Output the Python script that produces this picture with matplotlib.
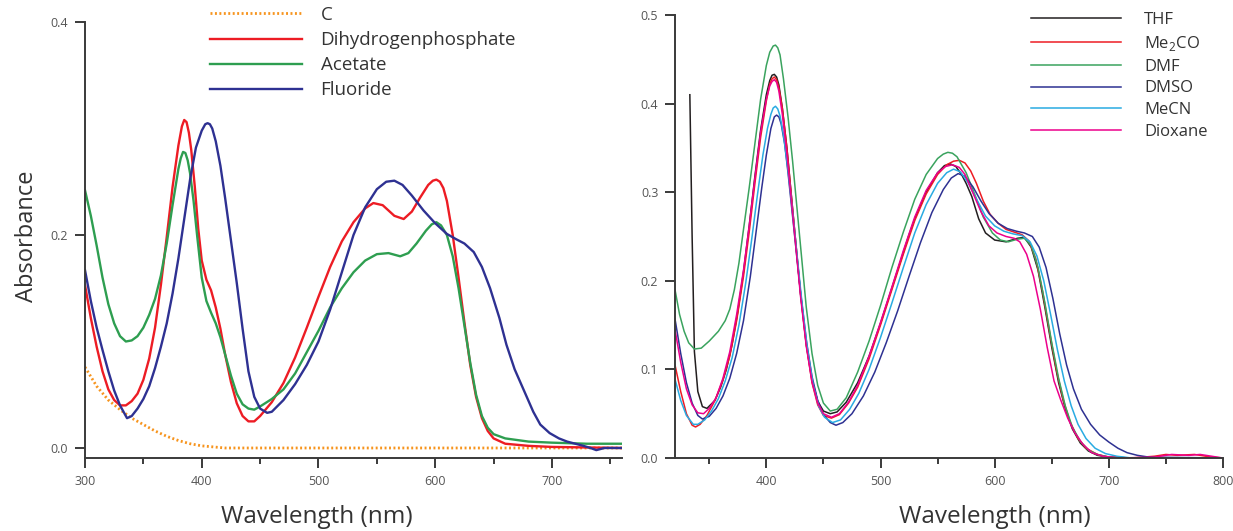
import numpy as np
import matplotlib.pyplot as plt

plt.rcParams['font.family'] = ['Open Sans', 'DejaVu Sans']
plt.rcParams['mathtext.fontset'] = 'custom'
plt.rcParams['mathtext.rm'] = 'Open Sans'

# ---- Left panel: anion titration (nm, absorbance) ----
wl_c = [300, 310, 320, 330, 340, 350, 360, 370, 380, 390, 400, 410, 420, 760]
abs_c = [0.076, 0.058, 0.045, 0.036, 0.028, 0.022, 0.016, 0.011, 0.007, 0.004,
         0.002, 0.001, 0.0, 0.0]

wl_h2po4 = [300, 305, 310, 315, 320, 325, 330, 335, 340, 345, 350, 355, 360, 365,
            370, 375, 380, 383, 385, 387, 389, 391, 394, 397, 400, 404, 408, 412,
            416, 420, 425, 430, 435, 440, 445, 450, 460, 470, 480, 490, 500, 510,
            520, 530, 540, 547, 555, 565, 573, 580, 587, 594, 598, 601, 604, 607,
            610, 615, 620, 625, 630, 635, 640, 645, 650, 660, 680, 700, 760]
abs_h2po4 = [0.153, 0.122, 0.095, 0.072, 0.055, 0.045, 0.040, 0.040, 0.044, 0.051,
             0.064, 0.084, 0.113, 0.153, 0.198, 0.245, 0.284, 0.302, 0.308, 0.306,
             0.296, 0.280, 0.246, 0.206, 0.176, 0.158, 0.148, 0.132, 0.112, 0.088,
             0.062, 0.042, 0.030, 0.025, 0.025, 0.030, 0.043, 0.061, 0.085, 0.113,
             0.142, 0.170, 0.194, 0.212, 0.225, 0.230, 0.228, 0.218, 0.215, 0.222,
             0.235, 0.247, 0.251, 0.252, 0.250, 0.244, 0.232, 0.200, 0.160, 0.118,
             0.078, 0.048, 0.028, 0.016, 0.009, 0.004, 0.002, 0.001, 0.0]

wl_acetate = [300, 305, 310, 315, 320, 325, 330, 335, 340, 345, 350, 355, 360, 365,
              370, 375, 380, 382, 384, 386, 388, 390, 393, 396, 400, 404, 408, 412,
              416, 420, 425, 430, 435, 440, 445, 450, 460, 470, 480, 490, 500, 510,
              520, 530, 540, 550, 560, 570, 577, 584, 592, 597, 601, 605, 610, 615,
              620, 625, 630, 635, 640, 645, 650, 660, 680, 700, 730, 760]
abs_acetate = [0.242, 0.218, 0.190, 0.160, 0.135, 0.117, 0.105, 0.100, 0.101, 0.105,
               0.113, 0.125, 0.140, 0.162, 0.192, 0.228, 0.262, 0.272, 0.278, 0.277,
               0.270, 0.258, 0.232, 0.200, 0.160, 0.138, 0.127, 0.117, 0.104, 0.088,
               0.068, 0.051, 0.041, 0.037, 0.036, 0.039, 0.046, 0.055, 0.070, 0.090,
               0.110, 0.132, 0.150, 0.165, 0.176, 0.182, 0.183, 0.180, 0.183, 0.192,
               0.204, 0.210, 0.212, 0.209, 0.200, 0.180, 0.150, 0.115, 0.080, 0.050,
               0.030, 0.019, 0.013, 0.009, 0.006, 0.005, 0.004, 0.004]

wl_fluoride = [300, 305, 310, 315, 320, 325, 330, 336, 340, 345, 350, 355, 360, 365,
               370, 375, 380, 385, 390, 395, 400, 403, 405, 407, 409, 412, 416, 420,
               425, 430, 435, 440, 445, 450, 456, 460, 470, 480, 490, 500, 510, 520,
               530, 540, 550, 558, 565, 572, 580, 590, 600, 610, 618, 625, 633, 640,
               647, 655, 661, 668, 676, 684, 690, 698, 706, 713, 720, 727, 733, 738,
               745, 760]
abs_fluoride = [0.167, 0.138, 0.113, 0.092, 0.072, 0.054, 0.040, 0.028, 0.030, 0.037,
                0.046, 0.058, 0.075, 0.095, 0.117, 0.145, 0.178, 0.215, 0.252, 0.282,
                0.298, 0.304, 0.305, 0.304, 0.300, 0.288, 0.265, 0.235, 0.195, 0.155,
                0.112, 0.072, 0.048, 0.037, 0.033, 0.034, 0.045, 0.060, 0.078, 0.100,
                0.130, 0.165, 0.200, 0.226, 0.243, 0.250, 0.251, 0.247, 0.237, 0.223,
                0.211, 0.201, 0.196, 0.192, 0.184, 0.170, 0.150, 0.122, 0.097, 0.074,
                0.054, 0.034, 0.022, 0.014, 0.009, 0.006, 0.004, 0.002, 0.000, -0.002,
                0.000, 0.000]

# ---- Right panel: solvent study ----
wl_thf = [333, 335, 337, 340, 344, 348, 355, 360, 365, 370, 375, 380, 385, 390, 395,
          400, 403, 405, 407, 409, 411, 414, 418, 422, 426, 430, 435, 440, 445, 450,
          456, 462, 470, 480, 490, 500, 510, 520, 525, 530, 540, 550, 556, 561, 566,
          571, 575, 580, 586, 592, 600, 610, 620, 626, 632, 638, 644, 650, 656, 662,
          668, 675, 682, 690, 700, 720, 800]
abs_thf = [0.410, 0.250, 0.120, 0.075, 0.058, 0.056, 0.065, 0.080, 0.100, 0.128, 0.165,
           0.210, 0.262, 0.318, 0.370, 0.410, 0.426, 0.432, 0.433, 0.430, 0.421, 0.395,
           0.350, 0.295, 0.240, 0.185, 0.128, 0.088, 0.064, 0.053, 0.050, 0.052, 0.063,
           0.085, 0.115, 0.152, 0.192, 0.232, 0.252, 0.270, 0.300, 0.322, 0.330, 0.332,
           0.329, 0.320, 0.310, 0.295, 0.270, 0.254, 0.246, 0.244, 0.248, 0.249, 0.238,
           0.212, 0.170, 0.125, 0.085, 0.055, 0.033, 0.017, 0.008, 0.003, 0.001, 0.0,
           0.0]

wl_me2co = [320, 325, 330, 335, 338, 342, 348, 355, 362, 368, 374, 380, 385, 390, 395,
            400, 403, 405, 407, 409, 411, 414, 418, 422, 426, 430, 435, 440, 445, 450,
            457, 464, 472, 480, 490, 500, 510, 520, 530, 540, 550, 558, 564, 569, 574,
            579, 584, 590, 596, 603, 610, 617, 624, 630, 636, 642, 648, 654, 660, 666,
            673, 680, 690, 700, 720, 740, 750, 760, 775, 790, 800]
abs_me2co = [0.105, 0.075, 0.050, 0.037, 0.035, 0.038, 0.048, 0.065, 0.088, 0.115,
             0.155, 0.205, 0.255, 0.310, 0.362, 0.403, 0.422, 0.428, 0.430, 0.427,
             0.418, 0.395, 0.350, 0.295, 0.240, 0.185, 0.128, 0.085, 0.060, 0.048,
             0.045, 0.049, 0.062, 0.080, 0.112, 0.150, 0.190, 0.230, 0.268, 0.298,
             0.320, 0.331, 0.335, 0.336, 0.333, 0.324, 0.310, 0.290, 0.275, 0.265,
             0.258, 0.255, 0.252, 0.245, 0.225, 0.188, 0.143, 0.100, 0.066, 0.041,
             0.022, 0.011, 0.004, 0.001, 0.0, 0.002, 0.004, 0.003, 0.004, 0.001, 0.0]

wl_dmf = [320, 324, 328, 332, 337, 343, 350, 358, 364, 368, 372, 376, 380, 385, 390,
          395, 400, 403, 406, 408, 410, 412, 415, 419, 423, 427, 431, 435, 440, 445,
          450, 456, 462, 470, 480, 490, 500, 510, 520, 530, 540, 550, 555, 559, 563,
          567, 575, 583, 590, 598, 605, 612, 620, 626, 632, 638, 644, 650, 656, 662,
          668, 675, 682, 690, 700, 720, 735, 745, 800]
abs_dmf = [0.190, 0.162, 0.143, 0.130, 0.123, 0.124, 0.132, 0.143, 0.155, 0.168, 0.190,
           0.220, 0.258, 0.305, 0.355, 0.405, 0.443, 0.458, 0.465, 0.466, 0.463, 0.455,
           0.428, 0.385, 0.335, 0.280, 0.225, 0.170, 0.118, 0.082, 0.062, 0.053, 0.055,
           0.068, 0.097, 0.132, 0.172, 0.215, 0.255, 0.292, 0.320, 0.338, 0.343, 0.345,
           0.344, 0.340, 0.322, 0.296, 0.272, 0.254, 0.246, 0.244, 0.247, 0.248, 0.240,
           0.215, 0.175, 0.130, 0.090, 0.058, 0.035, 0.019, 0.009, 0.004, 0.001, 0.0,
           -0.002, 0.0, 0.0]

wl_dmso = [320, 325, 330, 335, 340, 344, 350, 356, 362, 368, 374, 380, 386, 391, 396,
           400, 404, 407, 409, 411, 413, 416, 419, 422, 426, 430, 435, 440, 445, 450,
           456, 461, 467, 475, 485, 495, 505, 515, 525, 535, 545, 555, 562, 568, 574,
           581, 588, 595, 603, 611, 619, 626, 633, 639, 645, 651, 657, 663, 669, 676,
           684, 692, 700, 708, 716, 725, 735, 800]
abs_dmso = [0.157, 0.118, 0.085, 0.062, 0.048, 0.044, 0.047, 0.056, 0.070, 0.090, 0.118,
            0.155, 0.205, 0.255, 0.305, 0.342, 0.372, 0.385, 0.387, 0.385, 0.377, 0.355,
            0.322, 0.285, 0.236, 0.187, 0.133, 0.092, 0.065, 0.049, 0.040, 0.037, 0.040,
            0.050, 0.070, 0.097, 0.130, 0.166, 0.205, 0.243, 0.277, 0.303, 0.316, 0.321,
            0.318, 0.306, 0.290, 0.276, 0.265, 0.259, 0.256, 0.254, 0.250, 0.238, 0.215,
            0.180, 0.140, 0.105, 0.078, 0.055, 0.038, 0.026, 0.018, 0.011, 0.006, 0.003,
            0.001, 0.0]

wl_mecn = [320, 325, 330, 336, 340, 346, 352, 358, 364, 370, 376, 382, 387, 392, 397,
           401, 404, 406, 408, 410, 412, 415, 419, 423, 427, 431, 436, 441, 446, 451,
           458, 465, 473, 481, 490, 500, 510, 520, 530, 540, 550, 558, 564, 570, 577,
           585, 592, 600, 608, 616, 624, 631, 637, 643, 649, 655, 661, 667, 673, 680,
           688, 697, 707, 720, 800]
abs_mecn = [0.089, 0.065, 0.048, 0.038, 0.038, 0.043, 0.053, 0.067, 0.087, 0.113,
            0.150, 0.198, 0.245, 0.295, 0.342, 0.372, 0.388, 0.395, 0.397, 0.394,
            0.386, 0.365, 0.325, 0.278, 0.228, 0.178, 0.123, 0.083, 0.058, 0.046,
            0.040, 0.043, 0.055, 0.073, 0.100, 0.136, 0.175, 0.215, 0.254, 0.286,
            0.310, 0.322, 0.326, 0.323, 0.310, 0.290, 0.273, 0.262, 0.256, 0.253,
            0.251, 0.244, 0.228, 0.200, 0.162, 0.122, 0.087, 0.059, 0.038, 0.022,
            0.011, 0.005, 0.002, 0.0, 0.0]

wl_dioxane = [320, 325, 330, 335, 340, 345, 350, 356, 362, 368, 374, 380, 385, 390,
              395, 400, 403, 405, 407, 409, 411, 414, 418, 422, 426, 430, 435, 440,
              445, 450, 457, 464, 472, 480, 490, 500, 510, 520, 530, 540, 550, 557,
              563, 569, 574, 580, 588, 595, 602, 610, 617, 622, 628, 634, 640, 646,
              652, 658, 664, 670, 677, 685, 695, 710, 740, 755, 770, 780, 800]
abs_dioxane = [0.145, 0.108, 0.078, 0.060, 0.051, 0.050, 0.056, 0.068, 0.090, 0.120,
               0.162, 0.212, 0.262, 0.316, 0.368, 0.405, 0.420, 0.425, 0.427, 0.424,
               0.414, 0.388, 0.343, 0.290, 0.236, 0.182, 0.126, 0.086, 0.062, 0.050,
               0.046, 0.050, 0.063, 0.082, 0.115, 0.153, 0.193, 0.234, 0.272, 0.302,
               0.322, 0.329, 0.331, 0.328, 0.320, 0.302, 0.278, 0.262, 0.254, 0.250,
               0.248, 0.244, 0.230, 0.205, 0.168, 0.125, 0.087, 0.065, 0.045, 0.029,
               0.016, 0.006, 0.002, 0.0, 0.001, 0.004, 0.003, 0.004, 0.0]

W, H = 1233, 531
fig = plt.figure(figsize=(W / 100, H / 100), dpi=100)

ax1 = fig.add_axes([85 / W, (H - 458) / H, (622 - 85) / W, (458 - 22) / H])
ax2 = fig.add_axes([675 / W, (H - 458) / H, (1223 - 675) / W, (458 - 15) / H])

ax1.plot(wl_c, abs_c, color='#F7941D', lw=2.0, ls=(0, (0.7, 0.9)), label='C')
ax1.plot(wl_h2po4, abs_h2po4, color='#ED1C24', lw=1.7, label='Dihydrogenphosphate')
ax1.plot(wl_acetate, abs_acetate, color='#2E9E50', lw=1.7, label='Acetate')
ax1.plot(wl_fluoride, abs_fluoride, color='#2E3192', lw=1.7, label='Fluoride')

ax2.plot(wl_thf, abs_thf, color='#231F20', lw=1.1, label='THF')
ax2.plot(wl_me2co, abs_me2co, color='#ED1C24', lw=1.1, label='Me$_\\mathrm{2}$CO')
ax2.plot(wl_dmf, abs_dmf, color='#3AA35E', lw=1.1, label='DMF')
ax2.plot(wl_dmso, abs_dmso, color='#2E3192', lw=1.1, label='DMSO')
ax2.plot(wl_mecn, abs_mecn, color='#29ABE2', lw=1.1, label='MeCN')
ax2.plot(wl_dioxane, abs_dioxane, color='#EC008C', lw=1.1, label='Dioxane')

ax1.set_xlim(300, 760)
ax1.set_ylim(-0.0094, 0.4)
ax1.set_xticks([300, 400, 500, 600, 700])
ax1.set_xticks([350, 450, 550, 650, 750], minor=True)
ax1.set_yticks([0.0, 0.2, 0.4])
ax1.set_yticklabels(['0.0', '0.2', '0.4'])

ax2.set_xlim(320, 800)
ax2.set_ylim(0, 0.5)
ax2.set_xticks([400, 500, 600, 700, 800])
ax2.set_xticks([350, 450, 550, 650, 750], minor=True)
ax2.set_yticks([0.0, 0.1, 0.2, 0.3, 0.4, 0.5])
ax2.set_yticklabels(['0.0', '0.1', '0.2', '0.3', '0.4', '0.5'])

for ax in (ax1, ax2):
    for s in ('top', 'right'):
        ax.spines[s].set_visible(False)
    for s in ('left', 'bottom'):
        ax.spines[s].set_color('#3a3a3a')
        ax.spines[s].set_linewidth(1.4)
    ax.tick_params(which='major', length=7, width=1.4, color='#3a3a3a',
                   labelsize=9, labelcolor='#555555', pad=5)
    ax.tick_params(which='minor', length=4, width=1.4, color='#3a3a3a')

ax1.legend(loc='upper left', bbox_to_anchor=(210 / W, 1 - 6 / H),
           bbox_transform=fig.transFigure, frameon=False, fontsize=13.5,
           handlelength=4.9, handletextpad=1.0, labelspacing=0.38,
           borderpad=0, borderaxespad=0, labelcolor='#333333')
ax2.legend(loc='upper left', bbox_to_anchor=(1031 / W, 1 - 12 / H),
           bbox_transform=fig.transFigure, frameon=False, fontsize=12,
           handlelength=5.4, handletextpad=1.4, labelspacing=0.35,
           borderpad=0, borderaxespad=0, labelcolor='#333333')

fig.text(27 / W, 1 - 236 / H, 'Absorbance', rotation=90, ha='center', va='center',
         fontsize=17, color='#333333')
fig.text(317 / W, 1 - 517 / H, 'Wavelength (nm)', ha='center', va='center',
         fontsize=17.5, color='#333333')
fig.text(995 / W, 1 - 517 / H, 'Wavelength (nm)', ha='center', va='center',
         fontsize=17.5, color='#333333')

fig.savefig('out.png', dpi=100)
